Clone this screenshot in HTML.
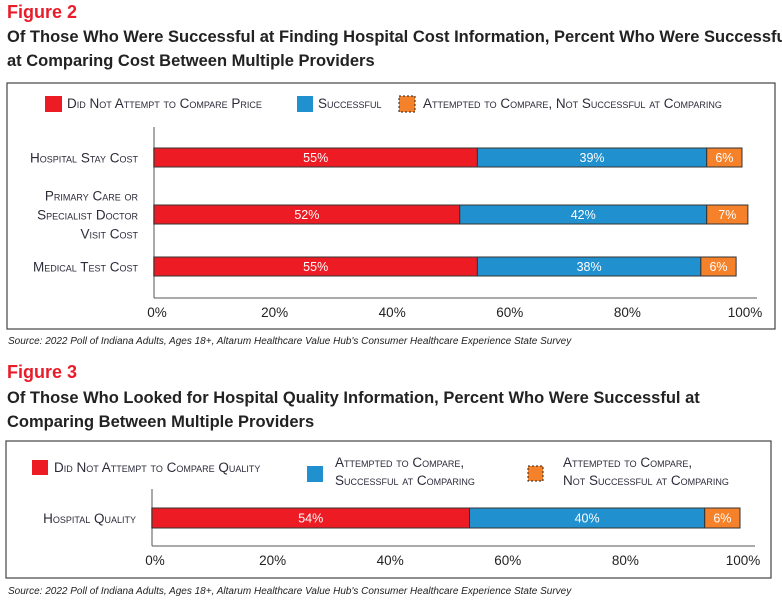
<!DOCTYPE html>
<html><head><meta charset="utf-8">
<style>
body{margin:0;background:#fff;width:782px;height:605px;overflow:hidden}
svg text{font-family:"Liberation Sans",sans-serif}
.sc{font-variant:small-caps;font-size:13.5px;fill:#2b2b3a}
.tk{font-size:13.5px;fill:#222}
.ttl{font-weight:bold;font-size:16.5px;fill:#222}
.fig{font-weight:bold;font-size:18px;fill:#e81c2a}
.src{font-style:italic;font-size:10px;fill:#222}
.val{font-size:12.5px;fill:#fff}
</style></head><body>
<svg id="chart" width="782" height="605" xmlns="http://www.w3.org/2000/svg">
<text class="fig" x="7" y="18">Figure 2</text>
<text class="ttl" x="7" y="42">Of Those Who Were Successful at Finding Hospital Cost Information, Percent Who Were Successful</text>
<text class="ttl" x="7" y="66">at Comparing Cost Between Multiple Providers</text>
<rect x="7" y="83" width="768" height="246" fill="none" stroke="#444" stroke-width="1.2"/>
<g>
<rect x="45" y="96" width="17" height="16" fill="#ed1c24"/>
<text class="sc" x="67" y="108">Did Not Attempt to Compare Price</text>
<rect x="297" y="96" width="16" height="16" fill="#2190cf"/>
<text class="sc" x="318" y="108">Successful</text>
<rect x="399" y="96" width="16" height="16" fill="#f5822a" stroke="#222" stroke-dasharray="2,2"/>
<text class="sc" x="423" y="108">Attempted to Compare, Not Successful at Comparing</text>
</g>
<text class="src" x="8" y="344">Source: 2022 Poll of Indiana Adults, Ages 18+, Altarum Healthcare Value Hub's Consumer Healthcare Experience State Survey</text>

<text class="fig" x="7" y="378">Figure 3</text>
<text class="ttl" x="7" y="403">Of Those Who Looked for Hospital Quality Information, Percent Who Were Successful at</text>
<text class="ttl" x="7" y="427">Comparing Between Multiple Providers</text>
<rect x="6" y="441" width="765" height="137" fill="none" stroke="#444" stroke-width="1.2"/>
<g>
<rect x="32" y="460" width="16" height="15" fill="#ed1c24"/>
<text class="sc" x="54" y="472">Did Not Attempt to Compare Quality</text>
<rect x="307" y="466" width="16" height="16" fill="#2190cf"/>
<text class="sc" x="335" y="467">Attempted to Compare,</text>
<text class="sc" x="335" y="485">Successful at Comparing</text>
<rect x="528" y="466" width="15" height="15" fill="#f5822a" stroke="#222" stroke-dasharray="2,2"/>
<text class="sc" x="563" y="467">Attempted to Compare,</text>
<text class="sc" x="563" y="485">Not Successful at Comparing</text>
</g>
<text class="src" x="8" y="594">Source: 2022 Poll of Indiana Adults, Ages 18+, Altarum Healthcare Value Hub's Consumer Healthcare Experience State Survey</text>
</svg>
<script>
const fig2Categories = [["Hospital Stay Cost"], ["Primary Care or", "Specialist Doctor", "Visit Cost"], ["Medical Test Cost"]];
const fig2DidNotAttempt = [55, 52, 55];
const fig2Successful = [39, 42, 38];
const fig2NotSuccessful = [6, 7, 6];
const fig3Categories = [["Hospital Quality"]];
const fig3DidNotAttempt = [54];
const fig3Successful = [40];
const fig3NotSuccessful = [6];
const tickValues = [0, 20, 40, 60, 80, 100];
const tickLabels = ["0%", "20%", "40%", "60%", "80%", "100%"];

const NS = "http://www.w3.org/2000/svg";
const svg = document.getElementById("chart");
const colors = ["#ed1c24", "#2190cf", "#f5822a"];
const segNames = ["did-not-attempt", "successful", "not-successful"];

function mk(tag, attrs, parent) {
  const e = document.createElementNS(NS, tag);
  for (const k in attrs) e.setAttribute(k, attrs[k]);
  parent.appendChild(e);
  return e;
}

function drawChart(prefix, cats, series, x0, x1, rowCenters, barH, axisTop, axisY, axisEnd, tickY) {
  const g = mk("g", {}, svg);
  
  
  const xs = v => x0 + (x1 - x0) * v / 100;
  const vline = mk("line", {x1: x0, x2: x0, y1: axisTop, y2: axisY, stroke: "#aaa", "stroke-width": 2}, g);
  
  
  const hline = mk("line", {x1: x0, x2: axisEnd, y1: axisY, y2: axisY, stroke: "#555", "stroke-width": 1}, g);
  
  
  tickValues.forEach((v, i) => {
    const t = mk("text", {x: xs(v) + 3, y: tickY, "text-anchor": "middle", class: "tk"}, g);
    t.textContent = tickLabels[i];
    
    
  });
  cats.forEach((lines, ci) => {
    const cy = rowCenters[ci];
    lines.forEach((ln, li) => {
      const t = mk("text", {x: x0 - 16, y: cy + 5 + (li - (lines.length - 1) / 2) * 19, "text-anchor": "end", class: "sc"}, g);
      t.textContent = ln;
      
      
    });
    let cum = 0;
    series.forEach((arr, si) => {
      const v = arr[ci];
      const r = mk("rect", {x: xs(cum), y: cy - barH / 2, width: xs(cum + v) - xs(cum), height: barH, fill: colors[si], stroke: "#333", "stroke-width": 1}, g);
      
      
      const t = mk("text", {x: (xs(cum) + xs(cum + v)) / 2, y: cy + 4.5, "text-anchor": "middle", class: "val"}, g);
      t.textContent = v + "%";
      
      
      cum += v;
    });
  });
}

drawChart("fig2", fig2Categories, [fig2DidNotAttempt, fig2Successful, fig2NotSuccessful],
  154, 742, [157.5, 214.5, 266.5], 19, 127, 298, 757, 317);
drawChart("fig3", fig3Categories, [fig3DidNotAttempt, fig3Successful, fig3NotSuccessful],
  152, 740, [518], 20, 489, 546, 755, 565);
</script>
</body></html>
